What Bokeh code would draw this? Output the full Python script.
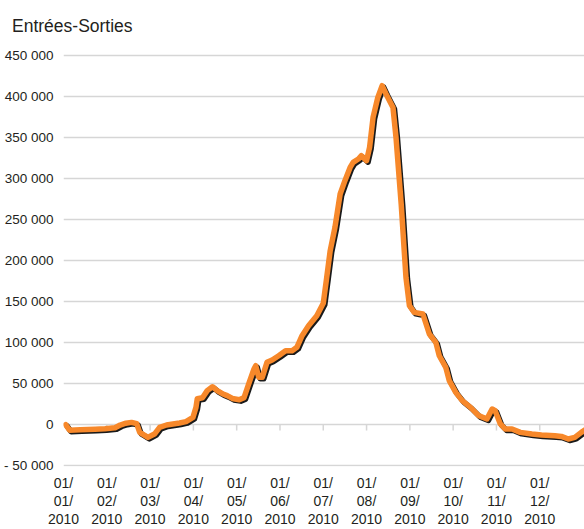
from bokeh.plotting import figure
from bokeh.models import Range1d, FixedTicker, ColumnDataSource
from bokeh.transform import dodge
from bokeh.embed import file_html
from bokeh.resources import INLINE

# x in months since 01/01/2010 (0 = January, 11 = December)
months = [0.05, 0.14, 0.39, 0.73, 0.96, 1.19, 1.31, 1.44, 1.57, 1.69, 1.76, 1.95, 2.11, 2.22, 2.38,
          2.68, 2.83, 2.99, 3.06, 3.09, 3.21, 3.32, 3.44, 3.55, 3.67, 3.78, 3.90, 4.06, 4.17, 4.29,
          4.40, 4.44, 4.51, 4.59, 4.70, 4.82, 4.97, 5.13, 5.28, 5.39, 5.51, 5.66, 5.85, 6.00, 6.08,
          6.16, 6.27, 6.39, 6.50, 6.62, 6.69, 6.81, 6.88, 7.00, 7.07, 7.15, 7.26, 7.36, 7.45, 7.61,
          7.68, 7.80, 7.91, 7.99, 8.10, 8.30, 8.45, 8.60, 8.68, 8.83, 8.91, 9.06, 9.21, 9.40, 9.59,
          9.78, 9.90, 9.97, 10.09, 10.20, 10.36, 10.55, 10.82, 11.04, 11.35, 11.50, 11.66, 11.81,
          11.96, 12.08]
entrees_sorties = [0, -6700, -6100, -5500, -4900, -3700, -400, 1800, 2800, 1200, -9400, -15500,
                   -11000, -3300, -400, 2100, 3700, 8900, 21100, 31700, 32900, 41500, 46300, 41500,
                   37800, 35400, 32000, 30500, 33000, 51600, 67900, 72000, 57700, 57700, 76000,
                   78900, 84100, 90200, 90200, 94300, 108500, 120700, 132900, 148000, 179600,
                   212200, 240600, 281300, 297600, 313800, 319900, 324000, 328000, 322000, 338200,
                   374700, 399100, 413400, 403300, 386900, 350400, 269100, 179600, 145200, 137000,
                   135000, 110600, 100400, 84100, 69900, 53700, 39400, 29300, 21100, 11000, 7000,
                   19100, 17100, 900, -5200, -5200, -9400, -11300, -12500, -13400, -14300, -17500,
                   -15500, -9400, -5200]

tick_months = [0, 1, 2, 3, 4, 5, 6, 7, 8, 9, 10, 11]
tick_labels = ["01/\n01/\n2010", "01/\n02/\n2010", "01/\n03/\n2010", "01/\n04/\n2010",
               "01/\n05/\n2010", "01/\n06/\n2010", "01/\n07/\n2010", "01/\n08/\n2010",
               "01/\n09/\n2010", "01/\n10/\n2010", "01/\n11/\n2010", "01/\n12/\n2010"]
y_ticks = [-50000, 0, 50000, 100000, 150000, 200000, 250000, 300000, 350000, 400000, 450000]
y_labels = ["- 50 000", "0", "50 000", "100 000", "150 000", "200 000", "250 000",
            "300 000", "350 000", "400 000", "450 000"]
tick_mark_len = [7000] * len(tick_months)

FONT = "Liberation Sans, Arial, sans-serif"
TEXT = "#231f20"
GRID = "#d6d6d6"

p = figure(frame_width=523, frame_height=419, output_backend="svg", toolbar_location=None,
           x_range=Range1d(0, 12.08), y_range=Range1d(-51000, 460000),
           min_border_left=53, min_border_right=0, min_border_top=47, min_border_bottom=56,
           title="Entrées-Sorties")
p.outline_line_color = None
p.background_fill_color = "white"
p.border_fill_color = "white"

p.title.text_font = FONT
p.title.text_font_size = "17.5px"
p.title.text_font_style = "normal"
p.title.text_color = TEXT
p.title.align = "left"
p.title.offset = -51.5
p.title.standoff = 23

# grid
p.xgrid.grid_line_color = None
p.ygrid.grid_line_color = GRID
p.ygrid.grid_line_width = 1.5
p.ygrid.ticker = FixedTicker(ticks=y_ticks)

# y axis
p.yaxis.ticker = FixedTicker(ticks=y_ticks)
p.yaxis.major_label_overrides = {t: l for t, l in zip(y_ticks, y_labels)}
p.yaxis.axis_line_color = None
p.yaxis.major_tick_line_color = None
p.yaxis.minor_tick_line_color = None
p.yaxis.major_label_text_font = FONT
p.yaxis.major_label_text_font_size = "13.5px"
p.yaxis.major_label_text_color = TEXT
p.yaxis.major_label_standoff = 4

# x axis
p.xaxis.ticker = FixedTicker(ticks=tick_months)
p.xaxis.major_label_overrides = {t: l for t, l in zip(tick_months, tick_labels)}
p.xaxis.axis_line_color = None
p.xaxis.major_tick_line_color = None
p.xaxis.minor_tick_line_color = None
p.xaxis.major_label_text_font = FONT
p.xaxis.major_label_text_font_size = "14px"
p.xaxis.major_label_text_color = TEXT
p.xaxis.major_label_standoff = 2
p.xaxis.major_label_text_line_height = 1.15

# tick marks hanging from the zero line
zeros = [0] * len(tick_months)
neg = [-v for v in tick_mark_len]
p.segment(x0=tick_months[1:], y0=zeros[1:], x1=tick_months[1:], y1=neg[1:],
          line_color=GRID, line_width=1.5)

cds = ColumnDataSource(dict(x=months, y=entrees_sorties))
# shadow
p.line(x=dodge("x", 0.035, range=p.x_range), y=dodge("y", -1800, range=p.y_range),
       source=cds, line_color="#1a1a1a", line_width=5.5, line_join="round", line_cap="round")
p.line(x="x", y="y", source=cds, line_color="#F7882A", line_width=5.5,
       line_join="round", line_cap="round")

open("out.html", "w").write(file_html(p, INLINE))
